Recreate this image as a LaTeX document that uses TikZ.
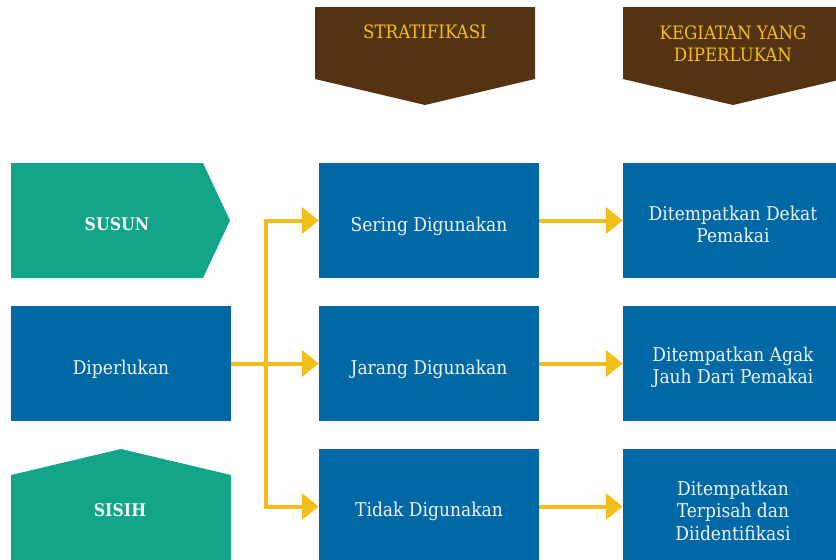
\documentclass[tikz,border=0pt]{standalone}
\usepackage{fontspec}
\setmainfont{DejaVu Serif Condensed}
\usetikzlibrary{arrows.meta}
\definecolor{teal}{HTML}{12A587}
\definecolor{boxblue}{HTML}{0068A5}
\definecolor{headbrown}{HTML}{543312}
\definecolor{gold}{HTML}{F2BE1A}
\definecolor{paletext}{HTML}{F2F2F2}
\tikzset{
  lbl/.style={text=paletext, font=\fontsize{19}{22.5}\selectfont, align=center, inner sep=0pt},
  boldlbl/.style={text=paletext, font=\fontsize{17.5}{22}\selectfont\bfseries, align=center, inner sep=0pt},
  headlbl/.style={text=gold, font=\fontsize{18.5}{22}\selectfont, align=center, inner sep=0pt},
  bluebox/.style={fill=boxblue, minimum width=220pt, minimum height=115pt, inner sep=0pt},
  link/.style={draw=gold, line width=4pt, -{Triangle[length=17pt,width=26pt]}},
  trunk/.style={draw=gold, line width=4pt}
}
\begin{document}
\begin{tikzpicture}[x=1pt,y=-1pt]
\useasboundingbox (0,0) rectangle (836,560);
\clip (0,0) rectangle (836,560);
% column headers
\fill[headbrown] (315,7) -- (535,7) -- (535,79) -- (425,105) -- (315,79) -- cycle;
\fill[headbrown] (623,7) -- (843,7) -- (843,79) -- (733,105) -- (623,79) -- cycle;
\node[headlbl] (hstrat) at (425,32) {STRATIFIKASI};
\node[headlbl] (hkeg) at (733,44) {KEGIATAN YANG\\DIPERLUKAN};
% left column
\fill[teal] (11,163) -- (203,163) -- (230,220.5) -- (203,278) -- (11,278) -- cycle;
\node[boldlbl] (susun) at (117,224) {SUSUN};
\node[bluebox] (dip) at (121,363.5) {};
\node[lbl] (diptxt) at ([yshift=-6pt]dip.center) {Diperlukan};
\fill[teal] (11,475) -- (121,449) -- (231,475) -- (231,570) -- (11,570) -- cycle;
\node[boldlbl] (sisih) at (120,510) {SISIH};
% middle column
\node[bluebox] (sering) at (429,220.5) {};
\node[bluebox] (jarang) at (429,363.5) {};
\node[bluebox] (tidak) at (429,506.5) {};
\node[lbl] (seringtxt) at ([yshift=-6pt]sering.center) {Sering Digunakan};
\node[lbl] (jarangtxt) at ([yshift=-6pt]jarang.center) {Jarang Digunakan};
\node[lbl] (tidaktxt) at ([yshift=-5pt]tidak.center) {Tidak Digunakan};
% right column
\node[bluebox] (dekat) at (733,220.5) {};
\node[bluebox] (agak) at (733,363.5) {};
\node[bluebox] (pisah) at (733,506.5) {};
\node[lbl] (dekattxt) at ([yshift=-4pt]dekat.center) {Ditempatkan Dekat\\Pemakai};
\node[lbl] (agaktxt) at ([yshift=-4pt]agak.center) {Ditempatkan Agak\\Jauh Dari Pemakai};
\node[lbl] (pisahtxt) at ([yshift=-4pt]pisah.center) {Ditempatkan\\Terpisah dan\\Diidentifikasi};
% connectors
\coordinate (jtop) at (266,220.5);
\coordinate (jbot) at (266,506.5);
\draw[trunk] ([yshift=2pt]jtop) -- ([yshift=-2pt]jbot);
\draw[link] ([xshift=-2pt]jtop) -- (sering.west);
\draw[link] ([xshift=-2pt]jbot) -- (tidak.west);
\draw[link] (dip.east) -- (jarang.west);
\draw[link] (sering.east) -- (dekat.west);
\draw[link] (jarang.east) -- (agak.west);
\draw[link] (tidak.east) -- (pisah.west);
\end{tikzpicture}
\end{document}
